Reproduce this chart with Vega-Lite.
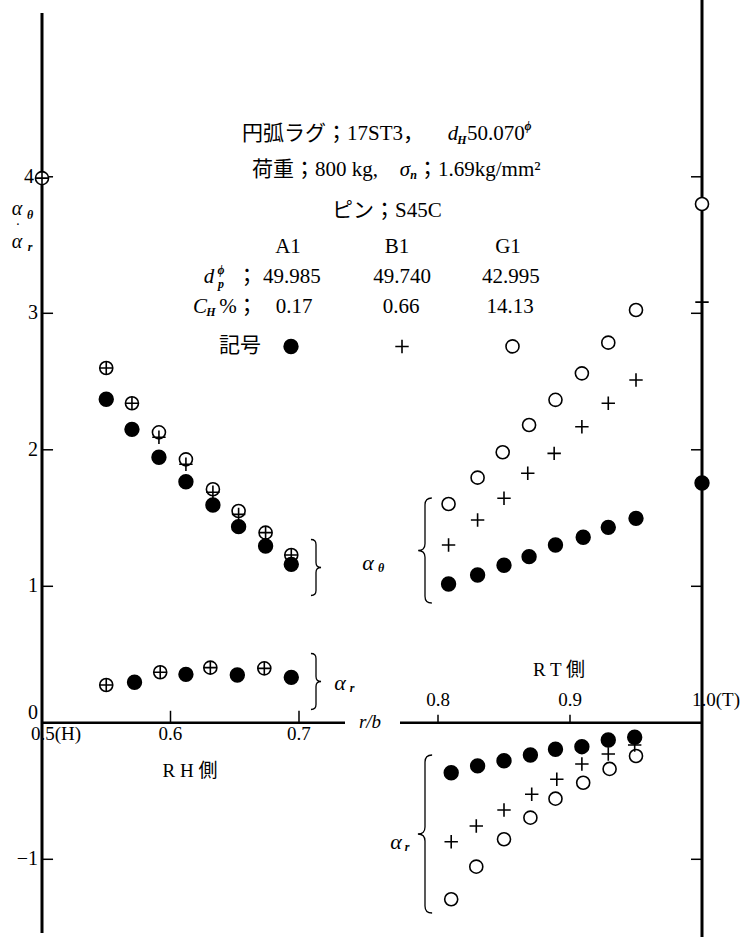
{
  "$schema": "https://vega.github.io/schema/vega-lite/v6.json",
  "width": 660,
  "height": 927,
  "padding": {"left": 42, "top": 8, "right": 45, "bottom": 5},
  "autosize": {"type": "none"},
  "background": "white",
  "config": {
    "view": {"stroke": null},
    "text": {"font": "Liberation Serif, Noto Sans CJK JP", "color": "black"}
  },
  "datasets": {
    "pts": [
      {"side": "RH", "comp": "theta", "series": "G1", "rb": 0.5, "a": 3.99},
      {"side": "RH", "comp": "theta", "series": "G1", "rb": 0.550, "a": 2.599},
      {"side": "RH", "comp": "theta", "series": "G1", "rb": 0.570, "a": 2.341},
      {"side": "RH", "comp": "theta", "series": "G1", "rb": 0.591, "a": 2.128},
      {"side": "RH", "comp": "theta", "series": "G1", "rb": 0.612, "a": 1.930},
      {"side": "RH", "comp": "theta", "series": "G1", "rb": 0.633, "a": 1.711},
      {"side": "RH", "comp": "theta", "series": "G1", "rb": 0.653, "a": 1.552},
      {"side": "RH", "comp": "theta", "series": "G1", "rb": 0.674, "a": 1.393},
      {"side": "RH", "comp": "theta", "series": "G1", "rb": 0.694, "a": 1.229},
      {"side": "RH", "comp": "r", "series": "G1", "rb": 0.550, "a": 0.277},
      {"side": "RH", "comp": "r", "series": "G1", "rb": 0.592, "a": 0.370},
      {"side": "RH", "comp": "r", "series": "G1", "rb": 0.631, "a": 0.404},
      {"side": "RH", "comp": "r", "series": "G1", "rb": 0.673, "a": 0.399},
      {"side": "RT", "comp": "theta", "series": "G1", "rb": 0.808, "a": 1.603},
      {"side": "RT", "comp": "theta", "series": "G1", "rb": 0.830, "a": 1.796},
      {"side": "RT", "comp": "theta", "series": "G1", "rb": 0.849, "a": 1.982},
      {"side": "RT", "comp": "theta", "series": "G1", "rb": 0.869, "a": 2.182},
      {"side": "RT", "comp": "theta", "series": "G1", "rb": 0.889, "a": 2.366},
      {"side": "RT", "comp": "theta", "series": "G1", "rb": 0.909, "a": 2.560},
      {"side": "RT", "comp": "theta", "series": "G1", "rb": 0.929, "a": 2.785},
      {"side": "RT", "comp": "theta", "series": "G1", "rb": 0.950, "a": 3.024},
      {"side": "RT", "comp": "theta", "series": "G1", "rb": 1.0, "a": 3.801},
      {"side": "RT", "comp": "r", "series": "G1", "rb": 0.810, "a": -1.293},
      {"side": "RT", "comp": "r", "series": "G1", "rb": 0.829, "a": -1.054},
      {"side": "RT", "comp": "r", "series": "G1", "rb": 0.850, "a": -0.853},
      {"side": "RT", "comp": "r", "series": "G1", "rb": 0.870, "a": -0.695},
      {"side": "RT", "comp": "r", "series": "G1", "rb": 0.889, "a": -0.556},
      {"side": "RT", "comp": "r", "series": "G1", "rb": 0.910, "a": -0.439},
      {"side": "RT", "comp": "r", "series": "G1", "rb": 0.930, "a": -0.338},
      {"side": "RT", "comp": "r", "series": "G1", "rb": 0.950, "a": -0.243},
      {"side": "RH", "comp": "theta", "series": "A1", "rb": 0.550, "a": 2.370},
      {"side": "RH", "comp": "theta", "series": "A1", "rb": 0.570, "a": 2.150},
      {"side": "RH", "comp": "theta", "series": "A1", "rb": 0.591, "a": 1.945},
      {"side": "RH", "comp": "theta", "series": "A1", "rb": 0.612, "a": 1.766},
      {"side": "RH", "comp": "theta", "series": "A1", "rb": 0.633, "a": 1.596},
      {"side": "RH", "comp": "theta", "series": "A1", "rb": 0.653, "a": 1.437},
      {"side": "RH", "comp": "theta", "series": "A1", "rb": 0.674, "a": 1.295},
      {"side": "RH", "comp": "theta", "series": "A1", "rb": 0.694, "a": 1.161},
      {"side": "RH", "comp": "r", "series": "A1", "rb": 0.572, "a": 0.297},
      {"side": "RH", "comp": "r", "series": "A1", "rb": 0.612, "a": 0.355},
      {"side": "RH", "comp": "r", "series": "A1", "rb": 0.652, "a": 0.350},
      {"side": "RH", "comp": "r", "series": "A1", "rb": 0.694, "a": 0.333},
      {"side": "RT", "comp": "theta", "series": "A1", "rb": 0.808, "a": 1.017},
      {"side": "RT", "comp": "theta", "series": "A1", "rb": 0.830, "a": 1.083},
      {"side": "RT", "comp": "theta", "series": "A1", "rb": 0.850, "a": 1.154},
      {"side": "RT", "comp": "theta", "series": "A1", "rb": 0.869, "a": 1.217},
      {"side": "RT", "comp": "theta", "series": "A1", "rb": 0.889, "a": 1.303},
      {"side": "RT", "comp": "theta", "series": "A1", "rb": 0.910, "a": 1.359},
      {"side": "RT", "comp": "theta", "series": "A1", "rb": 0.929, "a": 1.432},
      {"side": "RT", "comp": "theta", "series": "A1", "rb": 0.950, "a": 1.498},
      {"side": "RT", "comp": "theta", "series": "A1", "rb": 1.0, "a": 1.757},
      {"side": "RT", "comp": "r", "series": "A1", "rb": 0.810, "a": -0.366},
      {"side": "RT", "comp": "r", "series": "A1", "rb": 0.830, "a": -0.316},
      {"side": "RT", "comp": "r", "series": "A1", "rb": 0.850, "a": -0.278},
      {"side": "RT", "comp": "r", "series": "A1", "rb": 0.870, "a": -0.236},
      {"side": "RT", "comp": "r", "series": "A1", "rb": 0.889, "a": -0.194},
      {"side": "RT", "comp": "r", "series": "A1", "rb": 0.909, "a": -0.175},
      {"side": "RT", "comp": "r", "series": "A1", "rb": 0.929, "a": -0.126},
      {"side": "RT", "comp": "r", "series": "A1", "rb": 0.949, "a": -0.106},
      {"side": "RH", "comp": "theta", "series": "B1", "rb": 0.5, "a": 3.99},
      {"side": "RH", "comp": "theta", "series": "B1", "rb": 0.550, "a": 2.599},
      {"side": "RH", "comp": "theta", "series": "B1", "rb": 0.570, "a": 2.341},
      {"side": "RH", "comp": "theta", "series": "B1", "rb": 0.591, "a": 2.092},
      {"side": "RH", "comp": "theta", "series": "B1", "rb": 0.612, "a": 1.894},
      {"side": "RH", "comp": "theta", "series": "B1", "rb": 0.633, "a": 1.689},
      {"side": "RH", "comp": "theta", "series": "B1", "rb": 0.653, "a": 1.527},
      {"side": "RH", "comp": "theta", "series": "B1", "rb": 0.674, "a": 1.393},
      {"side": "RH", "comp": "theta", "series": "B1", "rb": 0.694, "a": 1.229},
      {"side": "RH", "comp": "r", "series": "B1", "rb": 0.550, "a": 0.277},
      {"side": "RH", "comp": "r", "series": "B1", "rb": 0.592, "a": 0.370},
      {"side": "RH", "comp": "r", "series": "B1", "rb": 0.631, "a": 0.404},
      {"side": "RH", "comp": "r", "series": "B1", "rb": 0.673, "a": 0.399},
      {"side": "RT", "comp": "theta", "series": "B1", "rb": 0.808, "a": 1.302},
      {"side": "RT", "comp": "theta", "series": "B1", "rb": 0.830, "a": 1.486},
      {"side": "RT", "comp": "theta", "series": "B1", "rb": 0.850, "a": 1.645},
      {"side": "RT", "comp": "theta", "series": "B1", "rb": 0.868, "a": 1.828},
      {"side": "RT", "comp": "theta", "series": "B1", "rb": 0.888, "a": 1.974},
      {"side": "RT", "comp": "theta", "series": "B1", "rb": 0.909, "a": 2.169},
      {"side": "RT", "comp": "theta", "series": "B1", "rb": 0.929, "a": 2.341},
      {"side": "RT", "comp": "theta", "series": "B1", "rb": 0.950, "a": 2.511},
      {"side": "RT", "comp": "theta", "series": "B1", "rb": 1.0, "a": 3.082},
      {"side": "RT", "comp": "r", "series": "B1", "rb": 0.810, "a": -0.871},
      {"side": "RT", "comp": "r", "series": "B1", "rb": 0.829, "a": -0.756},
      {"side": "RT", "comp": "r", "series": "B1", "rb": 0.850, "a": -0.639},
      {"side": "RT", "comp": "r", "series": "B1", "rb": 0.871, "a": -0.524},
      {"side": "RT", "comp": "r", "series": "B1", "rb": 0.890, "a": -0.414},
      {"side": "RT", "comp": "r", "series": "B1", "rb": 0.909, "a": -0.302},
      {"side": "RT", "comp": "r", "series": "B1", "rb": 0.929, "a": -0.229},
      {"side": "RT", "comp": "r", "series": "B1", "rb": 0.949, "a": -0.163}
    ]
  },
  "layer": [
    {
      "data": {"values": [{"a": 0.5, "v1": -1.540, "v2": 5.20}]},
      "mark": {"type": "rule", "stroke": "black", "strokeWidth": 3},
      "encoding": {
        "x": {"field": "a", "type": "quantitative", "scale": {"domain": [0.5, 1.01362], "nice": false, "zero": false}, "axis": null},
        "y": {"field": "v1", "type": "quantitative", "scale": {"domain": [-1.5546, 5.2366], "nice": false, "zero": false}, "axis": null},
        "y2": {"field": "v2"}
      }
    },
    {
      "data": {"values": [{"a": 0.5, "b": 0.7358, "v": 0}]},
      "mark": {"type": "rule", "stroke": "black", "strokeWidth": 2.5},
      "encoding": {
        "x": {"field": "a", "type": "quantitative", "scale": {"domain": [0.5, 1.01362], "nice": false, "zero": false}, "axis": null},
        "x2": {"field": "b"},
        "y": {"field": "v", "type": "quantitative", "scale": {"domain": [-1.5546, 5.2366], "nice": false, "zero": false}, "axis": null}
      }
    },
    {
      "data": {"values": [{"a": 0.6}, {"a": 0.7}]},
      "mark": {"type": "rule", "stroke": "black", "strokeWidth": 1.5},
      "encoding": {
        "x": {"field": "a", "type": "quantitative", "scale": {"domain": [0.5, 1.01362], "nice": false, "zero": false}, "axis": null},
        "y": {"datum": 0, "type": "quantitative", "scale": {"domain": [-1.5546, 5.2366], "nice": false, "zero": false}, "axis": null},
        "y2": {"datum": 0.088}
      }
    },
    {
      "data": {"values": [{"v": 4}, {"v": 3}, {"v": 2}, {"v": 1}, {"v": -1}]},
      "mark": {"type": "rule", "stroke": "black", "strokeWidth": 1.5},
      "encoding": {
        "x": {"datum": 0.5, "type": "quantitative", "scale": {"domain": [0.5, 1.01362], "nice": false, "zero": false}, "axis": null},
        "x2": {"datum": 0.5086},
        "y": {"field": "v", "type": "quantitative", "scale": {"domain": [-1.5546, 5.2366], "nice": false, "zero": false}, "axis": null}
      }
    },
    {
      "data": {"values": [{"a": 1.0, "v1": -1.57, "v2": 5.297}]},
      "mark": {"type": "rule", "stroke": "black", "strokeWidth": 3},
      "encoding": {
        "x": {"field": "a", "type": "quantitative", "scale": {"domain": [0.5, 1.0], "nice": false, "zero": false}, "axis": null},
        "y": {"field": "v1", "type": "quantitative", "scale": {"domain": [-1.5546, 5.2366], "nice": false, "zero": false}, "axis": null},
        "y2": {"field": "v2"}
      }
    },
    {
      "data": {"values": [{"a": 0.77121, "b": 1.0, "v": 0}]},
      "mark": {"type": "rule", "stroke": "black", "strokeWidth": 2.5},
      "encoding": {
        "x": {"field": "a", "type": "quantitative", "scale": {"domain": [0.5, 1.0], "nice": false, "zero": false}, "axis": null},
        "x2": {"field": "b"},
        "y": {"field": "v", "type": "quantitative", "scale": {"domain": [-1.5546, 5.2366], "nice": false, "zero": false}, "axis": null}
      }
    },
    {
      "data": {"values": [{"a": 0.8}, {"a": 0.9}]},
      "mark": {"type": "rule", "stroke": "black", "strokeWidth": 1.5},
      "encoding": {
        "x": {"field": "a", "type": "quantitative", "scale": {"domain": [0.5, 1.0], "nice": false, "zero": false}, "axis": null},
        "y": {"datum": 0, "type": "quantitative", "scale": {"domain": [-1.5546, 5.2366], "nice": false, "zero": false}, "axis": null},
        "y2": {"datum": 0.059}
      }
    },
    {
      "data": {"values": [{"v": 4}, {"v": 3}, {"v": 2}, {"v": 1}, {"v": -1}]},
      "mark": {"type": "rule", "stroke": "black", "strokeWidth": 1.5},
      "encoding": {
        "x": {"datum": 0.99167, "type": "quantitative", "scale": {"domain": [0.5, 1.0], "nice": false, "zero": false}, "axis": null},
        "x2": {"datum": 1.0},
        "y": {"field": "v", "type": "quantitative", "scale": {"domain": [-1.5546, 5.2366], "nice": false, "zero": false}, "axis": null}
      }
    },
    {
      "data": {"values": [{"x": 0.71323, "y": 1.1377}, {"x": 0.71323, "y": 0.3026}]},
      "mark": {"type": "point", "shape": "M-0.18,-1Q0,-1 0,-0.82L0,-0.18Q0,0 0.18,0Q0,0 0,0.18L0,0.82Q0,1 -0.18,1", "size": 3136, "filled": false, "stroke": "black", "strokeWidth": 1.3, "opacity": 1},
      "encoding": {
        "x": {"field": "x", "type": "quantitative", "scale": {"domain": [0.5, 1.01362], "nice": false, "zero": false}, "axis": null},
        "y": {"field": "y", "type": "quantitative", "scale": {"domain": [-1.5546, 5.2366], "nice": false, "zero": false}, "axis": null}
      }
    },
    {
      "data": {"values": [{"x": 0.79015, "y": 1.2623}]},
      "mark": {"type": "point", "shape": "M0.13,-1Q0,-1 0,-0.87L0,-0.13Q0,0 -0.13,0Q0,0 0,0.13L0,0.87Q0,1 0.13,1", "size": 11025, "filled": false, "stroke": "black", "strokeWidth": 1.3, "opacity": 1},
      "encoding": {
        "x": {"field": "x", "type": "quantitative", "scale": {"domain": [0.5, 1.0], "nice": false, "zero": false}, "axis": null},
        "y": {"field": "y", "type": "quantitative", "scale": {"domain": [-1.5546, 5.2366], "nice": false, "zero": false}, "axis": null}
      }
    },
    {
      "data": {"values": [{"x": 0.79015, "y": -0.8147}]},
      "mark": {"type": "point", "shape": "M0.09,-1Q0,-1 0,-0.91L0,-0.09Q0,0 -0.09,0Q0,0 0,0.09L0,0.91Q0,1 0.09,1", "size": 24964, "filled": false, "stroke": "black", "strokeWidth": 1.3, "opacity": 1},
      "encoding": {
        "x": {"field": "x", "type": "quantitative", "scale": {"domain": [0.5, 1.0], "nice": false, "zero": false}, "axis": null},
        "y": {"field": "y", "type": "quantitative", "scale": {"domain": [-1.5546, 5.2366], "nice": false, "zero": false}, "axis": null}
      }
    },
    {
      "data": {"name": "pts"},
      "transform": [{"filter": "datum.side == 'RH'"}],
      "mark": {"type": "point", "filled": true, "stroke": "black", "strokeWidth": 1.6, "opacity": 1},
      "encoding": {
        "x": {"field": "rb", "type": "quantitative", "scale": {"domain": [0.5, 1.01362], "nice": false, "zero": false}, "axis": null},
        "y": {"field": "a", "type": "quantitative", "scale": {"domain": [-1.5546, 5.2366], "nice": false, "zero": false}, "axis": null},
        "shape": {"field": "series", "type": "nominal", "scale": {"domain": ["A1", "B1", "G1"], "range": ["circle", "M-1,0H1M0,-1V1", "circle"]},
                  "legend": {"orient": "none", "legendX": 241, "legendY": 330, "direction": "horizontal", "title": null, "labelExpr": "''", "labelOffset": 0, "columnPadding": 90, "padding": 0, "symbolStrokeWidth": 1.6, "symbolStrokeColor": "black", "symbolOpacity": 1,
                             "encode": {"symbols": {"update": {"stroke": {"value": "black"}, "strokeWidth": {"value": 1.6}, "opacity": {"value": 1}}}}}},
        "fill": {"field": "series", "type": "nominal", "scale": {"domain": ["A1", "B1", "G1"], "range": ["black", "white", "white"]},
                 "legend": {"orient": "none", "legendX": 241, "legendY": 330, "direction": "horizontal", "title": null, "labelExpr": "''", "labelOffset": 0, "columnPadding": 90, "padding": 0, "symbolStrokeWidth": 1.6, "symbolStrokeColor": "black", "symbolOpacity": 1,
                            "encode": {"symbols": {"update": {"stroke": {"value": "black"}, "strokeWidth": {"value": 1.6}, "opacity": {"value": 1}}}}}},
        "size": {"field": "series", "type": "nominal", "scale": {"domain": ["A1", "B1", "G1"], "range": [190, 170, 120]},
                 "legend": {"orient": "none", "legendX": 241, "legendY": 330, "direction": "horizontal", "title": null, "labelExpr": "''", "labelOffset": 0, "columnPadding": 90, "padding": 0, "symbolStrokeWidth": 1.6, "symbolStrokeColor": "black", "symbolOpacity": 1,
                            "encode": {"symbols": {"update": {"stroke": {"value": "black"}, "strokeWidth": {"value": 1.6}, "opacity": {"value": 1}}}}}}
      }
    },
    {
      "data": {"name": "pts"},
      "transform": [{"filter": "datum.side == 'RT'"}],
      "mark": {"type": "point", "filled": true, "stroke": "black", "strokeWidth": 1.6, "opacity": 1},
      "encoding": {
        "x": {"field": "rb", "type": "quantitative", "scale": {"domain": [0.5, 1.0], "nice": false, "zero": false}, "axis": null},
        "y": {"field": "a", "type": "quantitative", "scale": {"domain": [-1.5546, 5.2366], "nice": false, "zero": false}, "axis": null},
        "shape": {"field": "series", "type": "nominal", "scale": {"domain": ["A1", "B1", "G1"], "range": ["circle", "M-1,0H1M0,-1V1", "circle"]}},
        "fill": {"field": "series", "type": "nominal", "scale": {"domain": ["A1", "B1", "G1"], "range": ["black", "white", "white"]}},
        "size": {"field": "series", "type": "nominal", "scale": {"domain": ["A1", "B1", "G1"], "range": [190, 170, 120]}}
      }
    },
    {
      "data": {"values": [
        {"x": 0.49377, "y": 4, "t": "4"},
        {"x": 0.49689, "y": 3, "t": "3"},
        {"x": 0.49689, "y": 2, "t": "2"},
        {"x": 0.49689, "y": 1, "t": "1"},
        {"x": 0.49689, "y": 0.075, "t": "0"},
        {"x": 0.49689, "y": -1, "t": "−1"}
      ]},
      "mark": {"type": "text", "fontSize": 20, "align": "right", "baseline": "middle"},
      "encoding": {
        "x": {"field": "x", "type": "quantitative", "scale": {"domain": [0.5, 1.01362], "nice": false, "zero": false}, "axis": null},
        "y": {"field": "y", "type": "quantitative", "scale": {"domain": [-1.5546, 5.2366], "nice": false, "zero": false}, "axis": null},
        "text": {"field": "t"}
      }
    },
    {
      "data": {"values": [
        {"x": 0.51089, "y": -0.085, "t": "0.5(H)"},
        {"x": 0.6, "y": -0.085, "t": "0.6"},
        {"x": 0.7, "y": -0.085, "t": "0.7"},
        {"x": 0.61518, "y": -0.3531, "t": "R H 側"}
      ]},
      "mark": {"type": "text", "fontSize": 19, "align": "center", "baseline": "middle"},
      "encoding": {
        "x": {"field": "x", "type": "quantitative", "scale": {"domain": [0.5, 1.01362], "nice": false, "zero": false}, "axis": null},
        "y": {"field": "y", "type": "quantitative", "scale": {"domain": [-1.5546, 5.2366], "nice": false, "zero": false}, "axis": null},
        "text": {"field": "t"}
      }
    },
    {
      "data": {"values": [
        {"x": 0.48132, "y": 3.6468, "t": "·"}
      ]},
      "mark": {"type": "text", "fontSize": 10, "fontWeight": "bold", "align": "center", "baseline": "middle"},
      "encoding": {
        "x": {"field": "x", "type": "quantitative", "scale": {"domain": [0.5, 1.01362], "nice": false, "zero": false}, "axis": null},
        "y": {"field": "y", "type": "quantitative", "scale": {"domain": [-1.5546, 5.2366], "nice": false, "zero": false}, "axis": null},
        "text": {"field": "t"}
      }
    },
    {
      "data": {"values": [
        {"x": 0.48054, "y": 3.7640, "t": "α"},
        {"x": 0.48054, "y": 3.5230, "t": "α"}
      ]},
      "mark": {"type": "text", "fontSize": 20, "fontStyle": "italic", "align": "center", "baseline": "middle"},
      "encoding": {
        "x": {"field": "x", "type": "quantitative", "scale": {"domain": [0.5, 1.01362], "nice": false, "zero": false}, "axis": null},
        "y": {"field": "y", "type": "quantitative", "scale": {"domain": [-1.5546, 5.2366], "nice": false, "zero": false}, "axis": null},
        "text": {"field": "t"}
      }
    },
    {
      "data": {"values": [
        {"x": 0.75370, "y": 1.1707, "t": "α"},
        {"x": 0.73191, "y": 0.2916, "t": "α"}
      ]},
      "mark": {"type": "text", "fontSize": 22, "fontStyle": "italic", "align": "center", "baseline": "middle"},
      "encoding": {
        "x": {"field": "x", "type": "quantitative", "scale": {"domain": [0.5, 1.01362], "nice": false, "zero": false}, "axis": null},
        "y": {"field": "y", "type": "quantitative", "scale": {"domain": [-1.5546, 5.2366], "nice": false, "zero": false}, "axis": null},
        "text": {"field": "t"}
      }
    },
    {
      "data": {"values": [
        {"x": 0.75525, "y": 0.0059, "t": "r/b"}
      ]},
      "mark": {"type": "text", "fontSize": 19, "fontStyle": "italic", "align": "center", "baseline": "middle"},
      "encoding": {
        "x": {"field": "x", "type": "quantitative", "scale": {"domain": [0.5, 1.01362], "nice": false, "zero": false}, "axis": null},
        "y": {"field": "y", "type": "quantitative", "scale": {"domain": [-1.5546, 5.2366], "nice": false, "zero": false}, "axis": null},
        "text": {"field": "t"}
      }
    },
    {
      "data": {"values": [
        {"x": 0.49066, "y": 3.7200, "t": "θ"},
        {"x": 0.49066, "y": 3.4860, "t": "r"},
        {"x": 0.76381, "y": 1.1341, "t": "θ"},
        {"x": 0.74125, "y": 0.2549, "t": "r"}
      ]},
      "mark": {"type": "text", "fontSize": 12, "fontStyle": "italic", "fontWeight": "bold", "align": "center", "baseline": "middle"},
      "encoding": {
        "x": {"field": "x", "type": "quantitative", "scale": {"domain": [0.5, 1.01362], "nice": false, "zero": false}, "axis": null},
        "y": {"field": "y", "type": "quantitative", "scale": {"domain": [-1.5546, 5.2366], "nice": false, "zero": false}, "axis": null},
        "text": {"field": "t"}
      }
    },
    {
      "data": {"values": [
        {"x": 0.8, "y": 0.1670, "t": "0.8"},
        {"x": 0.9, "y": 0.1670, "t": "0.9"},
        {"x": 1.01061, "y": 0.1670, "t": "1.0(T)"},
        {"x": 0.89167, "y": 0.3868, "t": "R T 側"}
      ]},
      "mark": {"type": "text", "fontSize": 19, "align": "center", "baseline": "middle"},
      "encoding": {
        "x": {"field": "x", "type": "quantitative", "scale": {"domain": [0.5, 1.0], "nice": false, "zero": false}, "axis": null},
        "y": {"field": "y", "type": "quantitative", "scale": {"domain": [-1.5546, 5.2366], "nice": false, "zero": false}, "axis": null},
        "text": {"field": "t"}
      }
    },
    {
      "data": {"values": [
        {"x": 0.68636, "y": 3.4857, "t": "A1"},
        {"x": 0.76894, "y": 3.4857, "t": "B1"},
        {"x": 0.85303, "y": 3.4857, "t": "G1"},
        {"x": 0.65530, "y": 3.2659, "t": "；"},
        {"x": 0.68939, "y": 3.2659, "t": "49.985"},
        {"x": 0.77273, "y": 3.2659, "t": "49.740"},
        {"x": 0.85530, "y": 3.2659, "t": "42.995"},
        {"x": 0.64091, "y": 3.0462, "t": "%"},
        {"x": 0.65530, "y": 3.0462, "t": "；"},
        {"x": 0.69091, "y": 3.0462, "t": "0.17"},
        {"x": 0.77197, "y": 3.0462, "t": "0.66"},
        {"x": 0.85455, "y": 3.0462, "t": "14.13"},
        {"x": 0.65, "y": 2.7604, "t": "記号"}
      ]},
      "mark": {"type": "text", "fontSize": 21, "align": "center", "baseline": "middle"},
      "encoding": {
        "x": {"field": "x", "type": "quantitative", "scale": {"domain": [0.5, 1.0], "nice": false, "zero": false}, "axis": null},
        "y": {"field": "y", "type": "quantitative", "scale": {"domain": [-1.5546, 5.2366], "nice": false, "zero": false}, "axis": null},
        "text": {"field": "t"}
      }
    },
    {
      "data": {"values": [
        {"x": 0.65152, "y": 4.3136, "t": "円弧ラグ；17ST3，"},
        {"x": 0.82197, "y": 4.3136, "t": "50.070"},
        {"x": 0.65909, "y": 4.0498, "t": "荷重；800 kg,"},
        {"x": 0.78409, "y": 4.0498, "t": "；1.69kg/mm²"},
        {"x": 0.71970, "y": 3.7495, "t": "ピン；S45C"}
      ]},
      "mark": {"type": "text", "fontSize": 21, "align": "left", "baseline": "middle"},
      "encoding": {
        "x": {"field": "x", "type": "quantitative", "scale": {"domain": [0.5, 1.0], "nice": false, "zero": false}, "axis": null},
        "y": {"field": "y", "type": "quantitative", "scale": {"domain": [-1.5546, 5.2366], "nice": false, "zero": false}, "axis": null},
        "text": {"field": "t"}
      }
    },
    {
      "data": {"values": [
        {"x": 0.81136, "y": 4.3136, "t": "d"},
        {"x": 0.77500, "y": 4.0498, "t": "σ"},
        {"x": 0.62652, "y": 3.2659, "t": "d"},
        {"x": 0.61970, "y": 3.0462, "t": "C"}
      ]},
      "mark": {"type": "text", "fontSize": 21, "fontStyle": "italic", "align": "center", "baseline": "middle"},
      "encoding": {
        "x": {"field": "x", "type": "quantitative", "scale": {"domain": [0.5, 1.0], "nice": false, "zero": false}, "axis": null},
        "y": {"field": "y", "type": "quantitative", "scale": {"domain": [-1.5546, 5.2366], "nice": false, "zero": false}, "axis": null},
        "text": {"field": "t"}
      }
    },
    {
      "data": {"values": [
        {"x": 0.76818, "y": -0.8733, "t": "α"}
      ]},
      "mark": {"type": "text", "fontSize": 22, "fontStyle": "italic", "align": "center", "baseline": "middle"},
      "encoding": {
        "x": {"field": "x", "type": "quantitative", "scale": {"domain": [0.5, 1.0], "nice": false, "zero": false}, "axis": null},
        "y": {"field": "y", "type": "quantitative", "scale": {"domain": [-1.5546, 5.2366], "nice": false, "zero": false}, "axis": null},
        "text": {"field": "t"}
      }
    },
    {
      "data": {"values": [
        {"x": 0.81818, "y": 4.2696, "t": "H"},
        {"x": 0.86818, "y": 4.3722, "t": "ϕ"},
        {"x": 0.78144, "y": 4.0132, "t": "n"},
        {"x": 0.63561, "y": 3.3172, "t": "ϕ"},
        {"x": 0.63561, "y": 3.2147, "t": "p"},
        {"x": 0.62803, "y": 3.0095, "t": "H"},
        {"x": 0.77652, "y": -0.9099, "t": "r"}
      ]},
      "mark": {"type": "text", "fontSize": 12, "fontStyle": "italic", "fontWeight": "bold", "align": "center", "baseline": "middle"},
      "encoding": {
        "x": {"field": "x", "type": "quantitative", "scale": {"domain": [0.5, 1.0], "nice": false, "zero": false}, "axis": null},
        "y": {"field": "y", "type": "quantitative", "scale": {"domain": [-1.5546, 5.2366], "nice": false, "zero": false}, "axis": null},
        "text": {"field": "t"}
      }
    }
  ],
  "resolve": {"scale": {"x": "independent"}}
}
